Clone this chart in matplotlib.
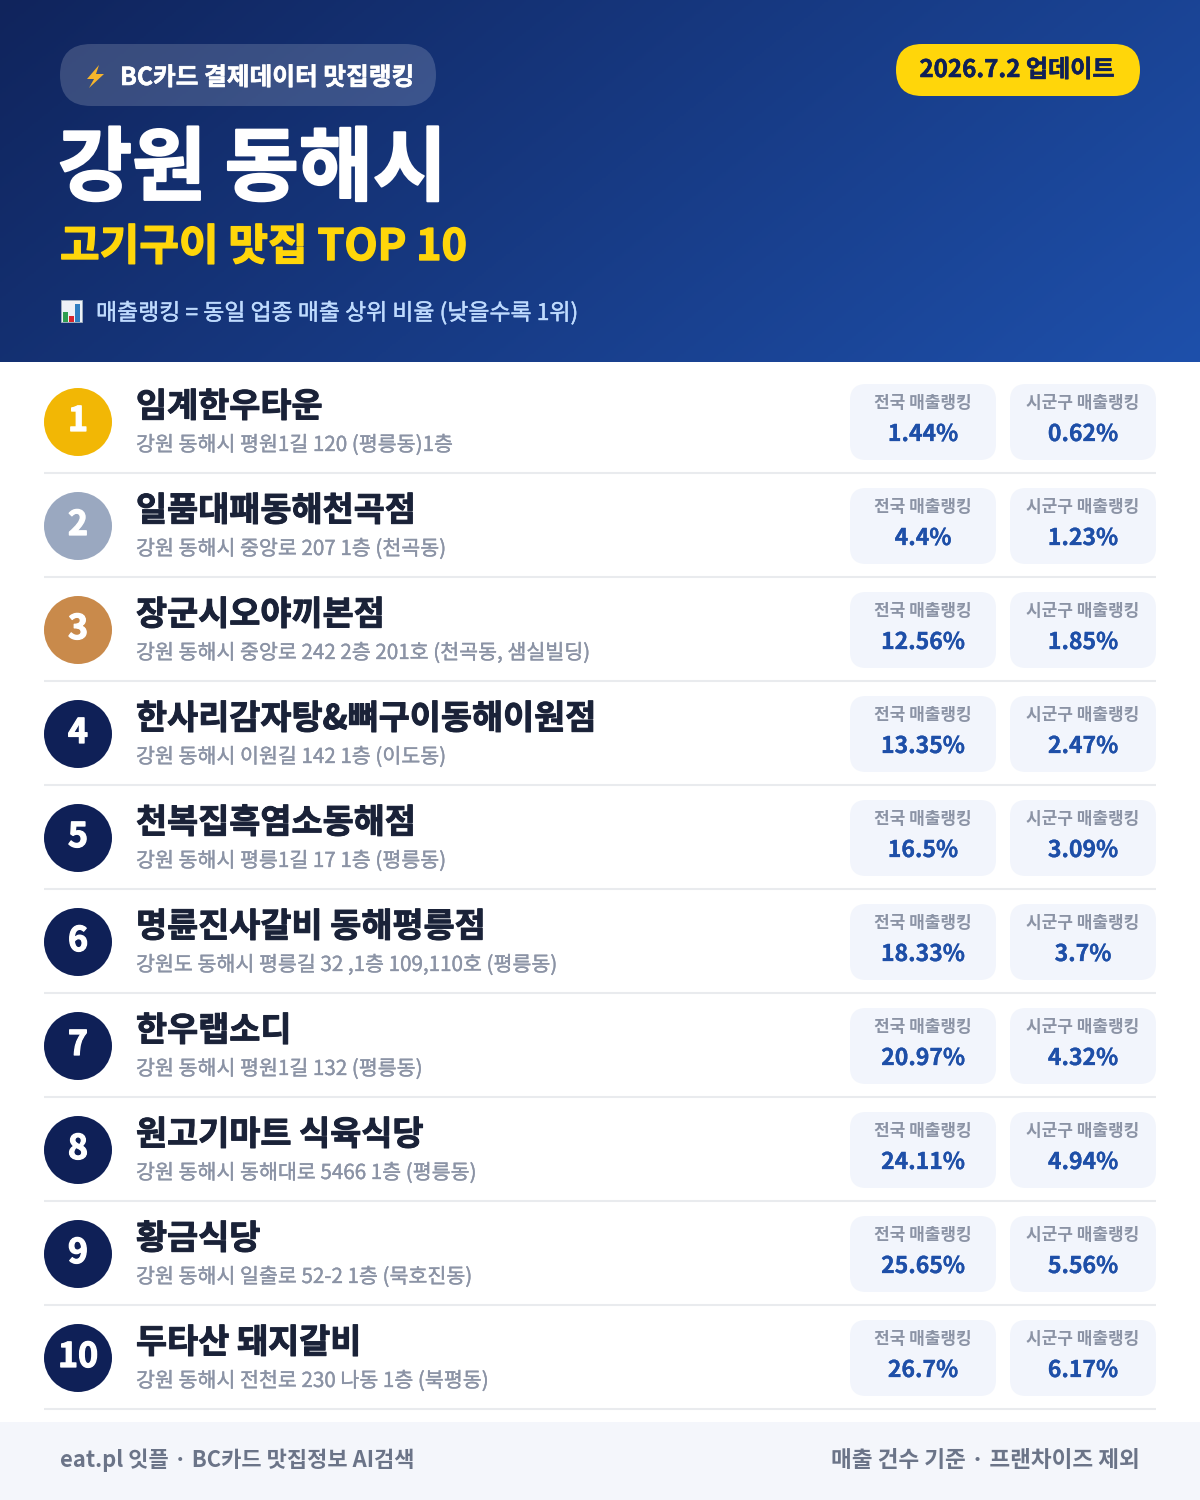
import matplotlib
matplotlib.use("Agg")
import matplotlib.pyplot as plt
import matplotlib.patheffects as pe
import numpy as np
from matplotlib.patches import Circle, FancyBboxPatch, Polygon, Rectangle

plt.rcParams['font.family'] = ['Noto Sans CJK KR', 'DejaVu Sans']

ranks = ["1", "2", "3", "4", "5", "6", "7", "8", "9", "10"]
names = ["임계한우타운", "일품대패동해천곡점", "장군시오야끼본점", "한사리감자탕&뼈구이동해이원점",
         "천복집흑염소동해점", "명륜진사갈비 동해평릉점", "한우랩소디", "원고기마트 식육식당",
         "황금식당", "두타산 돼지갈비"]
addresses = ["강원 동해시 평원1길 120 (평릉동)1층",
             "강원 동해시 중앙로 207 1층 (천곡동)",
             "강원 동해시 중앙로 242 2층 201호 (천곡동, 샘실빌딩)",
             "강원 동해시 이원길 142 1층 (이도동)",
             "강원 동해시 평릉1길 17 1층 (평릉동)",
             "강원도 동해시 평릉길 32 ,1층 109,110호 (평릉동)",
             "강원 동해시 평원1길 132 (평릉동)",
             "강원 동해시 동해대로 5466 1층 (평릉동)",
             "강원 동해시 일출로 52-2 1층 (묵호진동)",
             "강원 동해시 전천로 230 나동 1층 (북평동)"]
national = ["1.44%", "4.4%", "12.56%", "13.35%", "16.5%", "18.33%", "20.97%", "24.11%", "25.65%", "26.7%"]
local = ["0.62%", "1.23%", "1.85%", "2.47%", "3.09%", "3.7%", "4.32%", "4.94%", "5.56%", "6.17%"]
badge_colors = ["#f2b705", "#9aa8c0", "#c98a4b"]
NAVY = "#0f2057"
BLUE = "#1e4fa8"


def px(size):
    # css px -> pt at dpi 100
    return size * 0.72


def heavy(color, lw):
    return [pe.withStroke(linewidth=lw, foreground=color)]


def pill(ax, x0, y0, x1, y1, r, color, alpha=1.0, z=2):
    ax.add_patch(FancyBboxPatch((x0 + r, y0 + r), x1 - x0 - 2 * r, y1 - y0 - 2 * r,
                                boxstyle=f"round,pad={r},rounding_size={r}",
                                fc=color, ec="none", alpha=alpha, zorder=z))


fig = plt.figure(figsize=(12, 15), dpi=100)
ax = fig.add_axes([0, 0, 1, 1])
ax.set_xlim(0, 1200)
ax.set_ylim(1500, 0)
ax.axis("off")

# header gradient
h, w = 181, 600
yy, xx = np.mgrid[0:h, 0:w]
t = (xx / (w - 1) * 1200 * 0.62 + yy / (h - 1) * 362 * 0.78)
t = t / t.max()
c0 = np.array([0x10, 0x24, 0x5c]) / 255
c1 = np.array([0x1e, 0x50, 0xab]) / 255
grad = c0 + (c1 - c0) * t[..., None]
ax.imshow(grad, extent=(0, 1200, 362, 0), aspect="auto", zorder=0)
ax.set_xlim(0, 1200)
ax.set_ylim(1500, 0)

# top badges
pill(ax, 60, 44, 436, 106, 31, "white", alpha=0.17)
ax.add_patch(Polygon([(99, 65), (87, 79), (94, 79), (89, 88), (104, 74), (96, 74)],
                     fc="#f7b52c", ec="none", zorder=3))
ax.text(120, 85, "BC카드 결제데이터 맛집랭킹", fontsize=px(24.7), fontweight="bold",
        color="white", va="baseline", zorder=3, path_effects=heavy("white", 0.4))
pill(ax, 896, 44, 1140, 96, 26, "#ffd60a")
ax.text(1017, 77, "2026.7.2 업데이트", fontsize=px(24.1), fontweight="bold",
        color=NAVY, ha="center", va="baseline", zorder=3, path_effects=heavy(NAVY, 0.4))

# titles
ax.text(58, 194, "강원 동해시", fontsize=px(80.6), fontweight="bold", color="white",
        va="baseline", zorder=3, path_effects=heavy("white", 1.5))
ax.text(60, 260, "고기구이 맛집 TOP 10", fontsize=px(43.1), fontweight="bold", color="#ffd60a",
        va="baseline", zorder=3, path_effects=heavy("#ffd60a", 1.0))

# little bar chart icon
ax.add_patch(Rectangle((61, 300), 21, 22, fc="#eef2f6", ec="#9fb0bf", lw=0.6, zorder=3))
ax.add_patch(Rectangle((63, 312), 5, 10, fc="#2e9e4f", ec="none", zorder=4))
ax.add_patch(Rectangle((69, 316), 5, 6, fc="#d8262c", ec="none", zorder=4))
ax.add_patch(Rectangle((75, 304), 5, 18, fc="#2f7fc1", ec="none", zorder=4))
ax.text(96, 320, "매출랭킹 = 동일 업종 매출 상위 비율 (낮을수록 1위)", fontsize=px(22.9),
        color="#bfdbfe", va="baseline", zorder=3, path_effects=heavy("#bfdbfe", 0.3))

# rows
for i in range(len(ranks)):
    dy = 104 * i
    col = badge_colors[i] if i < 3 else NAVY
    ax.add_patch(Circle((78, 422 + dy), 34, fc=col, ec="none", zorder=2))
    ax.text(78, 431 + dy, ranks[i], fontsize=px(34), fontweight="bold", color="white",
            ha="center", va="baseline", zorder=3, path_effects=heavy("white", 0.9))
    ax.text(136, 417 + dy, names[i], fontsize=px(33.8), fontweight="bold", color="#1a2238",
            va="baseline", zorder=3, path_effects=heavy("#1a2238", 0.7))
    ax.text(136, 451 + dy, addresses[i], fontsize=px(20.6), color="#8b93a5",
            va="baseline", zorder=3, path_effects=heavy("#8b93a5", 0.25))
    ax.plot([44, 1156], [473 + dy, 473 + dy], color="#e9ebee", lw=1.5, zorder=1,
            solid_capstyle="butt")
    for x0, x1, label, val in [(850, 996, "전국 매출랭킹", national[i]),
                               (1010, 1156, "시군구 매출랭킹", local[i])]:
        pill(ax, x0, 384 + dy, x1, 460 + dy, 16, "#f2f5fc")
        xc = (x0 + x1) / 2
        ax.text(xc, 408 + dy, label, fontsize=px(17), fontweight="bold", color="#8b93a5",
                ha="center", va="baseline", zorder=3)
        ax.text(xc, 441 + dy, val, fontsize=px(23), fontweight="bold", color=BLUE,
                ha="center", va="baseline", zorder=3, path_effects=heavy(BLUE, 0.2))

# footer
ax.add_patch(Rectangle((0, 1422), 1200, 78, fc="#f4f6fb", ec="none", zorder=1))
ax.text(60, 1467, "eat.pl 잇플 · BC카드 맛집정보 AI검색", fontsize=px(22), fontweight="bold",
        color="#6b7488", va="baseline", zorder=3)
ax.text(1140, 1467, "매출 건수 기준 · 프랜차이즈 제외", fontsize=px(22.6), fontweight="bold",
        color="#6b7488", ha="right", va="baseline", zorder=3)

fig.savefig("out.png", dpi=100)
